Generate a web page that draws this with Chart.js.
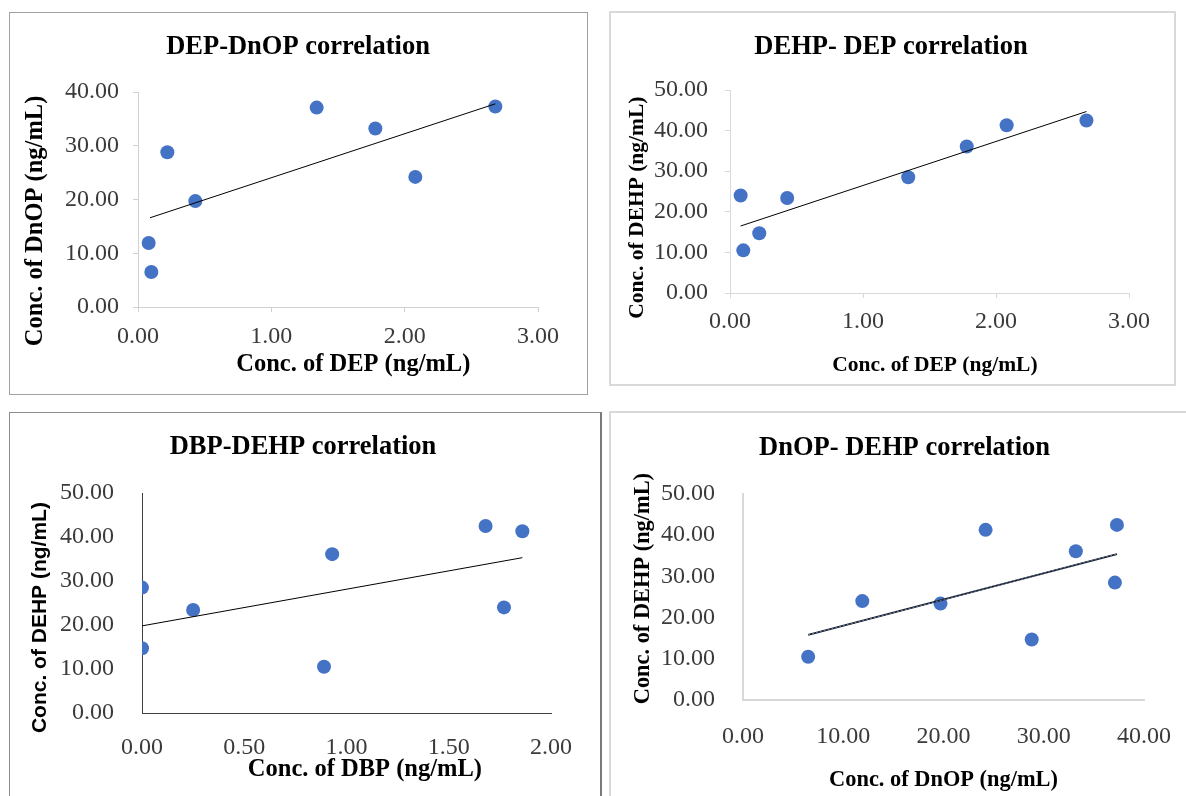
<!DOCTYPE html>
<html>
<head>
<meta charset="utf-8">
<title>Phthalate correlations</title>
<script src="https://cdn.jsdelivr.net/npm/chart.js@4"></script>
<style>
  html, body { margin: 0; padding: 0; background: #fff; width: 1186px; height: 796px; overflow: hidden; }
  .panel { position: absolute; box-sizing: border-box; }
  canvas { position: absolute; }
</style>
</head>
<body>
<div class="panel" style="left:9px;top:12px;width:579px;height:383px;border:1px solid #a0a0a0;"></div>
<div class="panel" style="left:609px;top:11px;width:567px;height:375px;border:2px solid #d9d9d9;"></div>
<div class="panel" style="left:9px;top:412px;width:593px;height:420px;border:1px solid #8c8c8c;border-right:2px solid #7a7a7a;"></div>
<div class="panel" style="left:609px;top:411px;width:620px;height:420px;border:2px solid #d9d9d9;"></div>
<canvas id="c1"></canvas>
<canvas id="c2"></canvas>
<canvas id="c3"></canvas>
<canvas id="c4"></canvas>
<script>
// one value per sample, same sample order in every list
const dep  = [0.08, 0.10, 0.22, 0.43, 1.34, 1.78, 2.08, 2.68];
const dnop = [11.9, 6.5, 28.8, 19.7, 37.1, 33.2, 24.2, 37.3];
const dehp = [24.0, 10.5, 14.7, 23.4, 28.5, 36.1, 41.3, 42.5];
const dbp  = [1.77, 0.89, 0.00, 0.25, 0.00, 0.93, 1.86, 1.68];

// trendline end points
const trend1X = [0.09, 2.68];
const trend1Y = [16.6, 37.8];
const trend2X = [0.08, 2.68];
const trend2Y = [16.5, 44.7];
const trend3X = [0.00, 1.86];
const trend3Y = [19.8, 35.3];
const trend4X = [6.5, 37.3];
const trend4Y = [15.8, 35.4];

// tick labels
const depTicks = [0, 1, 2, 3];
const dbpTicks = [0, 0.5, 1, 1.5, 2];
const dnopTicks = [0, 10, 20, 30, 40];
const ticks40 = [0, 10, 20, 30, 40];
const ticks50 = [0, 10, 20, 30, 40, 50];

const serif = "'Liberation Serif', 'Times New Roman', serif";
const sans = "'Liberation Sans', Arial, sans-serif";

function pts(xs, ys) {
    return xs.map((x, i) => ({ x: x, y: ys[i] }));
}

function makeChart(p) {
    const canvas = document.getElementById(p.id);
    canvas.width = p.w;
    canvas.height = p.h;
    canvas.style.left = p.x + 'px';
    canvas.style.top = p.y + 'px';

    const tl = p.tickMarks ? 5 : 0;
    const tickSize = 24, titleSize = 26.5;
    const axisSize = p.axisSize || 24.5;
    const yFont = p.yTitleFont || { family: serif, size: axisSize, weight: 'bold', lineHeight: 1.2 };
    const xFont = { family: serif, size: axisSize, weight: 'bold', lineHeight: 1.2 };
    const titleLh = titleSize * 1.2;
    const titleTop = p.titleY - p.y - titleLh / 2;

    const datasets = p.trends.map(t => ({
        type: 'line',
        data: pts(t.x, t.y),
        showLine: true,
        borderColor: t.color,
        borderWidth: t.width,
        borderDash: t.dash || [],
        pointRadius: 0,
        fill: false,
        tension: 0
    }));
    datasets.push({
        data: pts(p.xs, p.ys),
        backgroundColor: '#4472C4',
        borderColor: '#4472C4',
        borderWidth: 0,
        pointRadius: 7,
        pointHoverRadius: 7
    });

    const gridOpts = { display: p.tickMarks, drawOnChartArea: false, drawTicks: true, tickLength: 5, color: p.axisColor };
    const borderOpts = { display: true, color: p.axisColor, width: p.axisWidth };

    return new Chart(canvas, {
        type: 'scatter',
        data: { datasets: datasets },
        options: {
            responsive: false,
            animation: false,
            events: [],
            layout: { padding: 0 },
            plugins: {
                legend: { display: false },
                tooltip: { enabled: false },
                title: {
                    display: true,
                    text: p.title,
                    color: '#000',
                    font: { family: serif, size: titleSize, weight: 'bold', lineHeight: 1.2 },
                    padding: { top: titleTop, bottom: (p.area.t - p.y) - titleTop - titleLh }
                }
            },
            scales: {
                x: {
                    type: 'linear',
                    position: 'bottom',
                    min: p.xTicks[0],
                    max: p.xTicks[p.xTicks.length - 1],
                    afterBuildTicks: s => { s.ticks = p.xTicks.map(v => ({ value: v })); },
                    afterFit: s => { s.height = p.y + p.h - p.area.b; },
                    grid: gridOpts,
                    border: borderOpts,
                    ticks: {
                        font: { family: serif, size: tickSize, lineHeight: 1.2 },
                        color: '#3a3a3a',
                        padding: p.xLabelY - p.area.b - tl - tickSize * 0.6,
                        maxRotation: 0,
                        autoSkip: false,
                        callback: v => Number(v).toFixed(2)
                    },
                    title: {
                        display: true,
                        text: ' '.repeat(p.xLead || 0) + p.xTitle,
                        color: '#000',
                        font: xFont,
                        padding: { top: 0, bottom: p.y + p.h - p.xTitleY - xFont.size * 0.6 }
                    }
                },
                y: {
                    type: 'linear',
                    position: 'left',
                    min: p.yTicks[0],
                    max: p.yTicks[p.yTicks.length - 1],
                    afterBuildTicks: s => { s.ticks = p.yTicks.map(v => ({ value: v })); },
                    afterFit: s => { s.width = p.area.l - p.x; },
                    grid: gridOpts,
                    border: borderOpts,
                    ticks: {
                        font: { family: serif, size: tickSize, lineHeight: 1.2 },
                        color: '#3a3a3a',
                        padding: p.area.l - p.yLabelRight - tl,
                        autoSkip: false,
                        callback: v => Number(v).toFixed(2)
                    },
                    title: {
                        display: true,
                        text: ' '.repeat(p.yLead || 0) + p.yTitle + ' '.repeat(p.yTrail || 0),
                        color: '#000',
                        font: yFont,
                        padding: { top: p.yTitleX - p.x - yFont.size * 0.6, bottom: 0 }
                    }
                },
                // empty right-hand box so the title stays centred on the whole panel
                pad: {
                    type: 'linear',
                    position: 'right',
                    display: true,
                    afterFit: s => { s.width = p.x + p.w - p.area.r; },
                    grid: { display: false },
                    border: { display: false },
                    ticks: { display: false }
                }
            }
        }
    });
}

// DEP vs DnOP
makeChart({
    id: 'c1', x: 10, y: 13, w: 576, h: 381,
    area: { l: 138, r: 538, t: 92, b: 307 },
    title: 'DEP-DnOP correlation', titleY: 47,
    xTitle: 'Conc. of DEP (ng/mL)', xTitleY: 365, xLead: 5,
    yTitle: 'Conc. of DnOP (ng/mL)', yTitleX: 36, yTrail: 7,
    xLabelY: 337, yLabelRight: 119,
    xTicks: depTicks, yTicks: ticks40,
    xs: dep, ys: dnop,
    trends: [{ x: trend1X, y: trend1Y, color: '#000', width: 1 }],
    tickMarks: true, axisColor: '#d0d0d0', axisWidth: 1
});

// DEP vs DEHP
makeChart({
    id: 'c2', x: 611, y: 13, w: 560, h: 370,
    area: { l: 730, r: 1129, t: 90, b: 293 },
    title: 'DEHP- DEP correlation', titleY: 47,
    xTitle: 'Conc. of DEP (ng/mL)', xTitleY: 365, xLead: 2,
    yTitle: 'Conc. of DEHP (ng/mL)', yTitleX: 637, yTrail: 6,
    axisSize: 21.5,
    xLabelY: 322, yLabelRight: 708,
    xTicks: depTicks, yTicks: ticks50,
    xs: dep, ys: dehp,
    trends: [{ x: trend2X, y: trend2Y, color: '#000', width: 1 }],
    tickMarks: true, axisColor: '#d9d9d9', axisWidth: 1
});

// DBP vs DEHP
makeChart({
    id: 'c3', x: 10, y: 413, w: 586, h: 385,
    area: { l: 142, r: 551, t: 493, b: 713 },
    title: 'DBP-DEHP correlation', titleY: 447,
    xTitle: 'Conc. of DBP (ng/mL)', xTitleY: 770, xLead: 6,
    yTitle: 'Conc. of DEHP (ng/mL)', yTitleX: 40, yTrail: 5,
    yTitleFont: { family: sans, size: 21, weight: 'bold', lineHeight: 1.2 },
    xLabelY: 743, yLabelRight: 119,
    xTicks: dbpTicks, yTicks: ticks50,
    xs: dbp, ys: dehp,
    trends: [{ x: trend3X, y: trend3Y, color: '#000', width: 1 }],
    tickMarks: false, axisColor: '#404040', axisWidth: 1
});

// DnOP vs DEHP
makeChart({
    id: 'c4', x: 611, y: 413, w: 587, h: 385,
    area: { l: 743, r: 1144, t: 494, b: 700 },
    title: 'DnOP- DEHP correlation', titleY: 448,
    xTitle: 'Conc. of DnOP (ng/mL)', xTitleY: 780,
    yTitle: 'Conc. of DEHP (ng/mL)', yTitleX: 643, yLead: 3,
    axisSize: 22.4,
    xLabelY: 732, yLabelRight: 720,
    xTicks: dnopTicks, yTicks: ticks50,
    xs: dnop, ys: dehp,
    trends: [
        { x: trend4X, y: trend4Y, color: '#5b7fc7', width: 1, dash: [2, 2] },
        { x: trend4X, y: trend4Y, color: '#1a1a1a', width: 2 }
    ],
    tickMarks: false, axisColor: '#d9d9d9', axisWidth: 2
});
</script>
</body>
</html>
